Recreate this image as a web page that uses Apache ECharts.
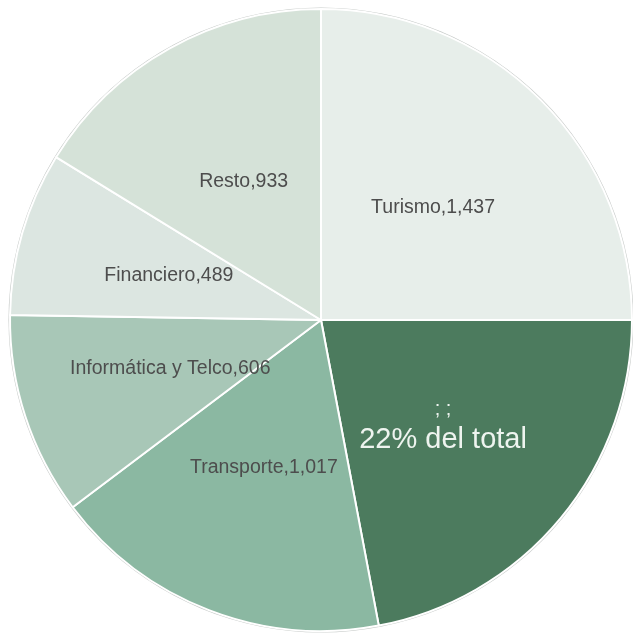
<!DOCTYPE html>
<html><head><meta charset="utf-8">
<script src="https://cdn.jsdelivr.net/npm/echarts@6/dist/echarts.min.js"></script>
<style>html,body{margin:0;padding:0;background:#fff}#c{width:633px;height:635px}</style>
</head><body><div id="c"></div>
<script>
const categories = ['Turismo', '; ;', 'Transporte', 'Informática y Telco', 'Financiero', 'Resto'];
const values = [1437, 1266, 1017, 606, 489, 933];
const colors = ['#e7eeea', '#4c7b5e', '#8bb8a2', '#a8c7b7', '#dce6e1', '#d5e2d8'];
const highlightNote = '22% del total';

const chart = echarts.init(document.getElementById('c'));
const data = categories.map((n, i) => ({
  name: n, value: values[i], itemStyle: { color: colors[i] },
  label: i === 1 ? {
    formatter: p => '{a|' + p.name + '}\n{b|' + highlightNote + '}',
    padding: [8, 0, 0, 0],
    rich: {
      a: { fontSize: 20, color: '#eef4ef', fontFamily: 'Liberation Sans', lineHeight: 30 },
      b: { fontSize: 29, color: '#eef4ef', fontFamily: 'Liberation Sans', lineHeight: 32 }
    }
  } : undefined
}));
chart.setOption({
  animation: false,
  series: [
    { type: 'pie', silent: true, center: [321, 320], radius: [0, 312.5], startAngle: 90,
      label: { show: false }, labelLine: { show: false },
      data: [{ value: 1, itemStyle: { color: '#c4c8c6' } }] },
    { type: 'pie', center: [321, 320], radius: [0, 311], startAngle: 90, clockwise: true,
      itemStyle: { borderColor: '#ffffff', borderWidth: 2 },
      label: { show: true, position: 'inner', fontFamily: 'Liberation Sans', fontSize: 19.5, color: '#4d4d4d',
        formatter: p => p.name + ',' + p.value.toLocaleString('en-US') },
      labelLine: { show: false },
      data: data }
  ]
});
</script></body></html>
